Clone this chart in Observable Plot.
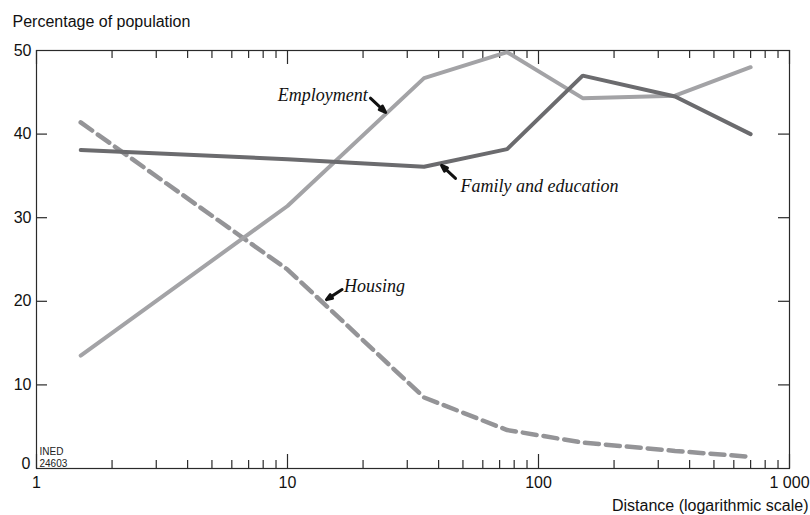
<!DOCTYPE html>
<html>
<head>
<meta charset="utf-8">
<script src="https://cdn.jsdelivr.net/npm/d3@7"></script>
<script src="https://cdn.jsdelivr.net/npm/@observablehq/plot@0.6"></script>
<style>
  html, body { margin: 0; padding: 0; background: #fff; }
  #chart { width: 810px; height: 515px; }
</style>
</head>
<body>
<div id="chart"></div>
<script>
// ---- data ----
const distances  = [1.5, 10, 35, 75, 150, 350, 700];
const employment = [13.5, 31.4, 46.7, 49.8, 44.3, 44.6, 48.0];
const family     = [38.1, 37.0, 36.1, 38.2, 47.0, 44.5, 40.0];
const housing    = [41.4, 23.8, 8.5, 4.6, 3.1, 2.1, 1.4];

const xMajorTicks = [1, 10, 100, 1000];
const xMinorTicks = [2,3,4,5,6,7,8,9, 20,30,40,50,60,70,80,90, 200,300,400,500,600,700,800,900];
const yTicks = [0, 10, 20, 30, 40, 50];

const yTitle = "Percentage of population";
const xTitle = "Distance (logarithmic scale)";
const sourceNote = "INED\n24603";

// annotation labels (data coordinates)
const labelText   = ["Employment", "Family and education", "Housing"];
const labelX      = [20.9, 48.9, 16.8];
const labelY      = [44.6, 33.75, 21.8];
const labelAnchor = ["end", "start", "start"];
// annotation arrows: tail (x1,y1) -> tip (x2,y2)
const arrowX1 = [21.4, 46.7, 16.5];
const arrowY1 = [44.3, 34.7, 21.4];
const arrowX2 = [24.6, 41.1, 14.3];
const arrowY2 = [42.6, 36.25, 20.2];

// ---- tables built from the arrays ----
const series = (vals) => distances.map((d, i) => ({distance: d, value: vals[i]}));
const labels = labelText.map((t, i) => ({text: t, x: labelX[i], y: labelY[i], anchor: labelAnchor[i]}));
const arrows = arrowX1.map((_, i) => ({x1: arrowX1[i], y1: arrowY1[i], x2: arrowX2[i], y2: arrowY2[i]}));

// ---- layout ----
const W = 810, H = 515;
const mL = 36, mR = 21, mT = 50, mB = 47;
const frameW = W - mL - mR, frameH = H - mT - mB;
const ink = "#2a2a2a";
const serif = "'Liberation Serif', 'Times New Roman', serif";

const fmtX = d => d === 1000 ? "1 000" : String(d);
const labelStyle = {x: "x", y: "y", text: "text", lineAnchor: "middle", fontFamily: serif, fontStyle: "italic", fontSize: 18, fill: "#111"};

const chart = Plot.plot({
  width: W, height: H,
  marginLeft: mL, marginRight: mR, marginTop: mT, marginBottom: mB,
  style: {fontFamily: "'Liberation Sans', Arial, sans-serif", fontSize: "16px", color: "#111", background: "#fff"},
  x: {type: "log", domain: [1, 1000]},
  y: {domain: [0, 50]},
  marks: [
    // ticks pointing inward on all four sides
    Plot.tickX(xMinorTicks, {x: d => d, stroke: ink, strokeWidth: 1.2, insetTop: frameH - 8}),
    Plot.tickX(xMajorTicks, {x: d => d, stroke: ink, strokeWidth: 1.2, insetTop: frameH - 14}),
    Plot.tickX(xMinorTicks, {x: d => d, stroke: ink, strokeWidth: 1.2, insetBottom: frameH - 8}),
    Plot.tickX(xMajorTicks, {x: d => d, stroke: ink, strokeWidth: 1.2, insetBottom: frameH - 14}),
    Plot.tickY(yTicks.slice(1, -1), {y: d => d, stroke: ink, strokeWidth: 1.2, insetRight: frameW - 11}),
    Plot.tickY(yTicks.slice(1, -1), {y: d => d, stroke: ink, strokeWidth: 1.2, insetLeft: frameW - 11}),
    Plot.frame({stroke: ink, strokeWidth: 1.2}),
    // axis labels
    Plot.axisX({ticks: xMajorTicks, tickSize: 0, tickPadding: 8, tickFormat: fmtX, label: null, fontSize: 16}),
    Plot.axisY({ticks: yTicks.slice(1), tickSize: 0, tickPadding: 5, label: null, fontSize: 16}),
    Plot.axisY({ticks: yTicks.slice(0, 1), tickSize: 0, tickPadding: 6, dy: -5, label: null, fontSize: 16}),
    // titles
    Plot.text([yTitle], {frameAnchor: "top-left", dx: -24, dy: -28.5, textAnchor: "start", lineAnchor: "middle", fontSize: 16, fill: "#111"}),
    Plot.text([xTitle], {frameAnchor: "bottom-right", dx: 19, dy: 37.5, textAnchor: "end", lineAnchor: "middle", fontSize: 16, fill: "#111"}),
    Plot.text([sourceNote], {frameAnchor: "bottom-left", dx: 3, dy: -2, textAnchor: "start", lineAnchor: "bottom", fontSize: 10, lineHeight: 1.15, fill: "#222"}),
    // series
    Plot.line(series(housing), {x: "distance", y: "value", stroke: "#949497", strokeWidth: 4.5, strokeDasharray: "14,7", strokeLinejoin: "miter"}),
    Plot.line(series(employment), {x: "distance", y: "value", stroke: "#a3a3a6", strokeWidth: 4, strokeLinejoin: "miter"}),
    Plot.line(series(family), {x: "distance", y: "value", stroke: "#6b6b6e", strokeWidth: 4, strokeLinejoin: "miter"}),
    // annotations
    Plot.arrow(arrows, {x1: "x1", y1: "y1", x2: "x2", y2: "y2", stroke: "#111", strokeWidth: 3, headLength: 10, headAngle: 40}),
    Plot.text(labels.filter(d => d.anchor === "end"), {...labelStyle, textAnchor: "end"}),
    Plot.text(labels.filter(d => d.anchor === "start"), {...labelStyle, textAnchor: "start"})
  ]
});

document.getElementById("chart").appendChild(chart);
</script>
</body>
</html>
